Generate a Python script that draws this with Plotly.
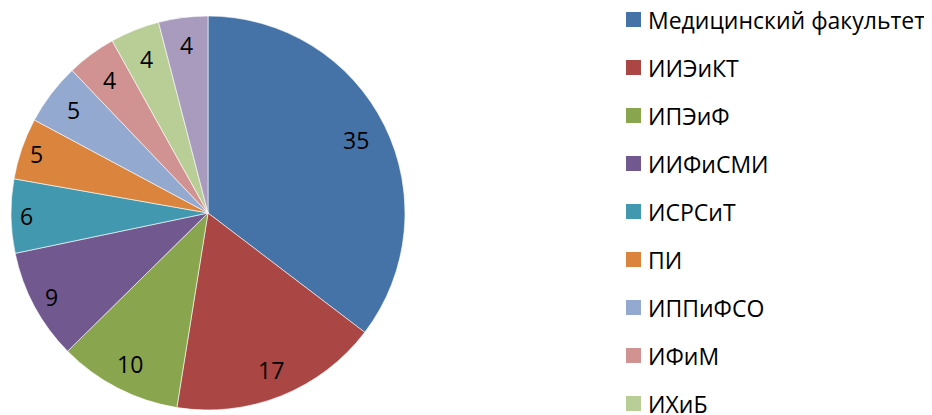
import math
import plotly.graph_objects as go

labels = ["Медицинский факультет", "ИИЭиКТ", "ИПЭиФ", "ИИФиСМИ", "ИСРСиТ",
          "ПИ", "ИППиФСО", "ИФиМ", "ИХиБ", "ИФКиС"]
values = [35, 17, 10, 9, 6, 5, 5, 4, 4, 4]
colors = ["#4572A7", "#AA4643", "#89A54E", "#71588F", "#4198AF",
          "#DB843D", "#93A9CF", "#D19392", "#B9CD96", "#A99BBD"]

W, H = 932, 415
OFF = 8  # page body margin offset
FONT = "Open Sans"
FS = 23

# pie geometry in pixels (page coordinates)
cx, cy, R = 208 - OFF, 213 - OFF, 197

fig = go.Figure()
fig.add_trace(go.Pie(
    labels=labels, values=values, sort=False, direction="clockwise", rotation=0,
    marker=dict(colors=colors, line=dict(color="white", width=0.6)),
    textinfo="none", hoverinfo="label+value", showlegend=False,
    domain=dict(x=[(cx - R) / W, (cx + R) / W], y=[(H - cy - R) / H, (H - cy + R) / H]),
))

annotations = []
shapes = []
total = sum(values)
cum = 0
rfrac = [0.84, 0.86, 0.86, 0.9, 0.92, 0.92, 0.86, 0.84, 0.84, 0.86]
for i, v in enumerate(values):
    mid = (cum + v / 2) / total * 2 * math.pi
    cum += v
    r = R * rfrac[i]
    px = cx + r * math.sin(mid)
    py = cy - r * math.cos(mid)
    annotations.append(dict(
        x=px / W, y=1 - py / H, xref="paper", yref="paper", text=str(v),
        showarrow=False, xanchor="center", yanchor="middle",
        font=dict(family=FONT, size=FS, color="black"),
    ))

lx0, ly0, step, sq = 626 - OFF, 12 - OFF, 48, 15
for i, lab in enumerate(labels):
    top = ly0 + i * step
    shapes.append(dict(
        type="rect", xref="paper", yref="paper",
        x0=lx0 / W, x1=(lx0 + sq) / W, y0=1 - (top + sq) / H, y1=1 - top / H,
        fillcolor=colors[i], line=dict(width=0),
    ))
    annotations.append(dict(
        x=(lx0 + sq + 5) / W, y=1 - (top + sq / 2 + 0.5) / H, xref="paper", yref="paper",
        text=lab, showarrow=False, xanchor="left", yanchor="middle",
        font=dict(family=FONT, size=FS, color="black"),
    ))

fig.update_layout(
    width=W, height=H, margin=dict(l=0, r=0, t=0, b=0),
    paper_bgcolor="white", plot_bgcolor="white",
    annotations=annotations, shapes=shapes, showlegend=False,
)
fig.write_html("out.html")
